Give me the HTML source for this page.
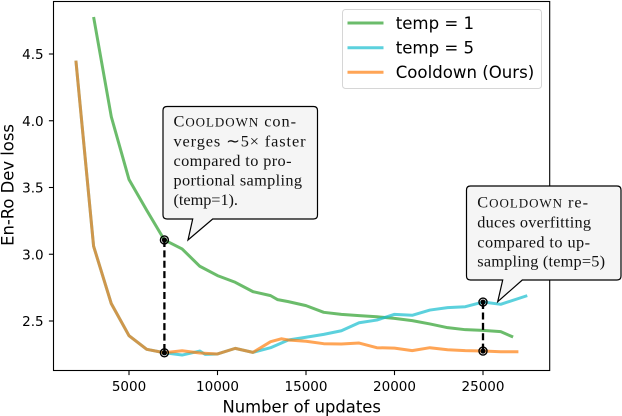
<!DOCTYPE html>
<html lang="en">
<head>
<meta charset="utf-8">
<title>En-Ro Dev loss chart</title>
<style>
html,body{margin:0;padding:0;background:#fff;}
svg{display:block;}
text{font-family:"DejaVu Sans",sans-serif;fill:#000;}
.note{font-family:"Liberation Serif",serif;font-size:16.3px;fill:#111;}
.sc{font-variant:small-caps;font-size:18.4px;}
</style>
</head>
<body>
<svg id="chart" width="622" height="416" viewBox="0 0 622 416" xmlns="http://www.w3.org/2000/svg">
  <g id="series-layer"></g>
  <g id="axis-layer"></g>
  <g id="marker-layer"></g>

  <g>
    <rect x="342.5" y="9.5" width="199" height="79" rx="3" fill="#fff" fill-opacity="0.8" stroke="#d6d6d6" stroke-width="1"/>
    <g>
      <line x1="347.5" x2="383.5" y1="23" y2="23" stroke="#2ca02c" stroke-opacity="0.7" stroke-width="3"/>
      <text x="395.7" y="29" font-size="16.6">temp = 1</text>
    </g>
    <g>
      <line x1="347.5" x2="383.5" y1="47.7" y2="47.7" stroke="#17becf" stroke-opacity="0.7" stroke-width="3"/>
      <text x="395.7" y="53.7" font-size="16.6">temp = 5</text>
    </g>
    <g>
      <line x1="347.5" x2="383.5" y1="72.3" y2="72.3" stroke="#ff7f0e" stroke-opacity="0.7" stroke-width="3"/>
      <text x="395.7" y="78" font-size="16.6">Cooldown (Ours)</text>
    </g>
  </g>

  <g>
    <path d="M167,106.5 H313.5 Q317.5,106.5 317.5,110.5 V215 Q317.5,219 313.5,219 H212.7 L188,240 L192.7,219 H167 Q163,219 163,215 V110.5 Q163,106.5 167,106.5 Z" fill="#f5f5f5" stroke="#000" stroke-width="1.2"/>
    <text class="note" x="173.5" y="126.7" textLength="122.5" lengthAdjust="spacing">C<tspan class="sc">ooldown</tspan> con-</text>
    <text class="note" x="173.5" y="146.5" textLength="132" lengthAdjust="spacing">verges ∼5× faster</text>
    <text class="note" x="173.5" y="166" textLength="118" lengthAdjust="spacing">compared to pro-</text>
    <text class="note" x="173.5" y="185.7" textLength="128.5" lengthAdjust="spacing">portional sampling</text>
    <text class="note" x="173.5" y="205" textLength="64.5" lengthAdjust="spacing">(temp=1).</text>
  </g>

  <g>
    <path d="M470.5,186 H617 Q621,186 621,190 V276 Q621,280 617,280 H522.3 L497.7,301.7 L502.7,280 H470.5 Q466.5,280 466.5,276 V190 Q466.5,186 470.5,186 Z" fill="#f5f5f5" stroke="#000" stroke-width="1.2"/>
    <text class="note" x="477.3" y="207.7" textLength="110.7" lengthAdjust="spacing">C<tspan class="sc">ooldown</tspan> re-</text>
    <text class="note" x="477.3" y="227.3" textLength="113.7" lengthAdjust="spacing">duces overfitting</text>
    <text class="note" x="477.3" y="247.3" textLength="112.7" lengthAdjust="spacing">compared to up-</text>
    <text class="note" x="477.3" y="266.7" textLength="127.7" lengthAdjust="spacing">sampling (temp=5)</text>
  </g>
</svg>
<script>
const temp1Updates = [3000,4000,5000,6000,7000,8000,9000,10000,11000,12000,13000,13400,14000,15000,16000,17000,18000,19000,20000,21000,22000,23000,24000,25000,26000,26700];
const temp1Loss = [4.777,4.03,3.56,3.33,3.107,3.04,2.91,2.84,2.79,2.72,2.69,2.66,2.645,2.615,2.565,2.55,2.54,2.532,2.52,2.503,2.478,2.45,2.435,2.43,2.42,2.38];
const temp5Updates = [2000,3000,4000,5000,6000,7000,8000,9000,9300,10000,11000,12000,13000,14000,15000,16000,17000,18000,19000,20000,21000,22000,23000,24000,25000,26000,27500];
const temp5Loss = [4.45,3.06,2.63,2.39,2.288,2.262,2.245,2.275,2.25,2.253,2.295,2.265,2.30,2.358,2.378,2.40,2.427,2.487,2.507,2.55,2.543,2.582,2.60,2.607,2.642,2.625,2.69];
const cooldownUpdates = [2000,3000,4000,5000,6000,7000,8000,9000,10000,11000,12000,13000,13600,14000,15000,16000,17000,18000,19000,20000,21000,22000,23000,24000,25000,26000,27000];
const cooldownLoss = [4.45,3.06,2.63,2.39,2.288,2.262,2.277,2.26,2.253,2.295,2.265,2.345,2.367,2.358,2.348,2.33,2.328,2.335,2.30,2.297,2.278,2.30,2.285,2.278,2.275,2.27,2.27];
const xTicks = [5000,10000,15000,20000,25000];
const yTicks = [2.5,3.0,3.5,4.0,4.5];
const comparisonUpdates = [7000,25000];
const comparisonUpper = [3.107,2.642];
const comparisonLower = [2.262,2.275];

const SVG_NS = 'http://www.w3.org/2000/svg';
const plot = {left: 53.5, right: 549.7, top: 1.5, bottom: 370.5};
function xScale(u) { return 129 + (u - 5000) * 0.0177; }
function yScale(v) { return 321 - (v - 2.5) * 133.5; }
function make(tag, parent, attrs) {
  const el = document.createElementNS(SVG_NS, tag);
  for (const k in attrs) el.setAttribute(k, attrs[k]);
  parent.appendChild(el);
  return el;
}

const seriesLayer = document.getElementById('series-layer');
function drawSeries(xs, ys, color, name) {
  const d = xs.map((u, i) => (i ? 'L' : 'M') + xScale(u).toFixed(2) + ',' + yScale(ys[i]).toFixed(2)).join(' ');
  const path = make('path', seriesLayer, {d: d, fill: 'none', stroke: color, 'stroke-opacity': 0.7, 'stroke-width': 3, 'stroke-linejoin': 'round'});
  
  
}
drawSeries(temp1Updates, temp1Loss, '#2ca02c', 'line-temp-1');
drawSeries(temp5Updates, temp5Loss, '#17becf', 'line-temp-5');
drawSeries(cooldownUpdates, cooldownLoss, '#ff7f0e', 'line-cooldown');

const axisLayer = document.getElementById('axis-layer');
const frame = make('rect', axisLayer, {x: plot.left, y: plot.top, width: plot.right - plot.left, height: plot.bottom - plot.top, fill: 'none', stroke: '#000', 'stroke-width': 1.1});



xTicks.forEach(function (t) {
  const px = xScale(t);
  const tick = make('line', axisLayer, {x1: px, x2: px, y1: plot.bottom, y2: plot.bottom + 4.6, stroke: '#000', 'stroke-width': 1.1});
  
  
  const label = make('text', axisLayer, {x: px, y: 391, 'text-anchor': 'middle', 'font-size': 13.5});
  
  
  label.textContent = String(t);
});
yTicks.forEach(function (t) {
  const py = yScale(t);
  const tick = make('line', axisLayer, {x1: plot.left - 4.6, x2: plot.left, y1: py, y2: py, stroke: '#000', 'stroke-width': 1.1});
  
  
  const label = make('text', axisLayer, {x: 43.6, y: py + 5, 'text-anchor': 'end', 'font-size': 13.5});
  
  
  label.textContent = t.toFixed(1);
});
const xTitle = make('text', axisLayer, {x: 301.7, y: 412.7, 'text-anchor': 'middle', 'font-size': 16.4});


xTitle.textContent = 'Number of updates';
const yTitle = make('text', axisLayer, {x: 0, y: 0, 'text-anchor': 'middle', 'font-size': 16.4, transform: 'translate(13.5 185) rotate(-90)'});


yTitle.textContent = 'En-Ro Dev loss';

const markerLayer = document.getElementById('marker-layer');
function drawDot(u, v) {
  const ring = make('circle', markerLayer, {cx: xScale(u), cy: yScale(v), r: 4, fill: 'none', stroke: '#000', 'stroke-width': 1.4});
  
  
  const dot = make('circle', markerLayer, {cx: xScale(u), cy: yScale(v), r: 2.6, fill: '#000'});
  
  
}
comparisonUpdates.forEach(function (u, i) {
  const link = make('line', markerLayer, {x1: xScale(u), x2: xScale(u), y1: yScale(comparisonUpper[i]), y2: yScale(comparisonLower[i]), stroke: '#000', 'stroke-width': 2.3, 'stroke-dasharray': '7 3.4'});
  
  
  drawDot(u, comparisonUpper[i]);
  drawDot(u, comparisonLower[i]);
});
</script>
</body>
</html>
